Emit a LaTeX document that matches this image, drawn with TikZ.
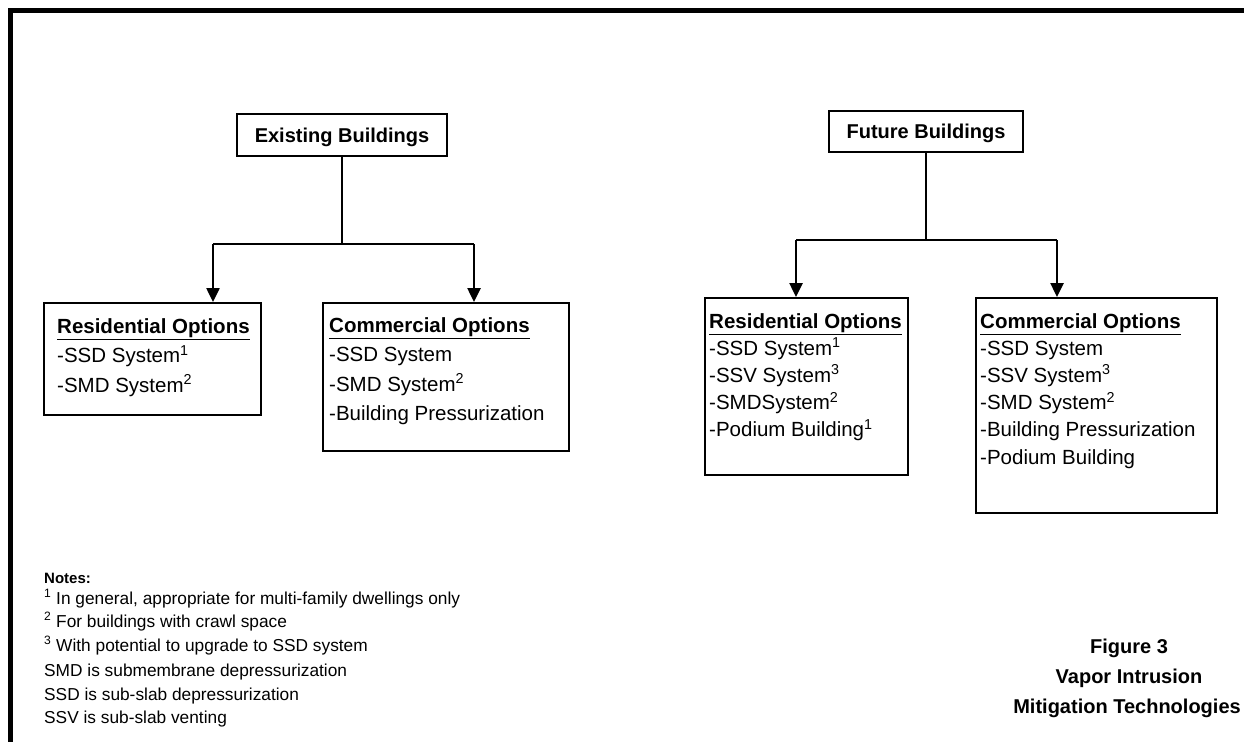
\documentclass[tikz,border=0pt]{standalone}
\usepackage{fontspec}
\setmainfont{Liberation Sans}
\usetikzlibrary{arrows.meta}
\begin{document}
\begin{tikzpicture}[x=1pt,y=-1pt,
  frame/.style={line width=5pt},
  topbox/.style={draw, line width=1.8pt, inner sep=0pt, text height=14.5pt, text depth=0pt, font=\bfseries\fontsize{20}{24}\selectfont},
  optbox/.style={draw, line width=1.8pt, anchor=north west, inner sep=0pt},
  opttextA/.style={anchor=north west, inner sep=0pt, align=left, font=\fontsize{20.5}{29.5}\selectfont},
  opttextB/.style={anchor=north west, inner sep=0pt, align=left, font=\fontsize{20.5}{27.2}\selectfont},
  conn/.style={line width=2.5pt},
  arr/.style={conn, -{Triangle[width=13pt,length=14pt]}},
  notehead/.style={anchor=base west, inner sep=0pt, font=\bfseries\fontsize{15}{18}\selectfont},
  note/.style={anchor=base west, inner sep=0pt, font=\fontsize{17.3}{20}\selectfont},
  title/.style={anchor=base, inner sep=0pt, font=\bfseries\fontsize{20}{25}\selectfont}
]
\useasboundingbox (0,0) rectangle (1244,742);
\fill[white] (0,0) rectangle (1244,742);
% frame
\draw[frame] (1244,10) -- (10,10) -- (10,742);

% top boxes
\node[topbox, minimum width=210pt, minimum height=42pt] (eb) at (342,135) {Existing Buildings};
\node[topbox, minimum width=194pt, minimum height=41pt] (fb) at (926,131.5) {Future Buildings};

% option boxes
\node[optbox, minimum width=217pt, minimum height=112pt] (er) at (43,302) {};
\node[opttextA] (ert) at (57,318) {\underline{\textbf{Residential Options}}\\-SSD System\textsuperscript{1}\\-SMD System\textsuperscript{2}};

\node[optbox, minimum width=246pt, minimum height=148pt] (ec) at (322,302) {};
\node[opttextA] (ect) at (329,317) {\underline{\textbf{Commercial Options}}\\-SSD System\\-SMD System\textsuperscript{2}\\-Building Pressurization};

\node[optbox, minimum width=203pt, minimum height=177pt] (fr) at (704,297) {};
\node[opttextB] (frt) at (709,313) {\underline{\textbf{Residential Options}}\\-SSD System\textsuperscript{1}\\-SSV System\textsuperscript{3}\\-SMDSystem\textsuperscript{2}\\-Podium Building\textsuperscript{1}};

\node[optbox, minimum width=241pt, minimum height=215pt] (fc) at (975,297) {};
\node[opttextB] (fct) at (980,313) {\underline{\textbf{Commercial Options}}\\-SSD System\\-SSV System\textsuperscript{3}\\-SMD System\textsuperscript{2}\\-Building Pressurization\\-Podium Building};

% connectors
\coordinate (ejL) at (213,244);
\coordinate (ejR) at (474,244);
\draw[conn] (eb.south) -- (eb.south |- ejL);
\draw[conn] (ejL) -- (ejR);
\draw[arr] (ejL) -- (ejL |- er.north);
\draw[arr] (ejR) -- (ejR |- ec.north);

\coordinate (fjL) at (796,240);
\coordinate (fjR) at (1057,240);
\draw[conn] (fb.south) -- (fb.south |- fjL);
\draw[conn] (fjL) -- (fjR);
\draw[arr] (fjL) -- (fjL |- fr.north);
\draw[arr] (fjR) -- (fjR |- fc.north);

% notes
\node[notehead] (n0) at (44,583) {Notes:};
\node[note] (n1) at (44,604) {\textsuperscript{1} In general, appropriate for multi-family dwellings only};
\node[note] (n2) at (44,627) {\textsuperscript{2} For buildings with crawl space};
\node[note] (n3) at (44,651) {\textsuperscript{3} With potential to upgrade to SSD system};
\node[note] (n4) at (44,676) {SMD is submembrane depressurization};
\node[note] (n5) at (44,700) {SSD is sub-slab depressurization};
\node[note] (n6) at (44,723) {SSV is sub-slab venting};

% title
\node[title] (t1) at (1129,653) {Figure 3};
\node[title] (t2) at (1129,683) {Vapor Intrusion};
\node[title] (t3) at (1127,713) {Mitigation Technologies};
\end{tikzpicture}
\end{document}
